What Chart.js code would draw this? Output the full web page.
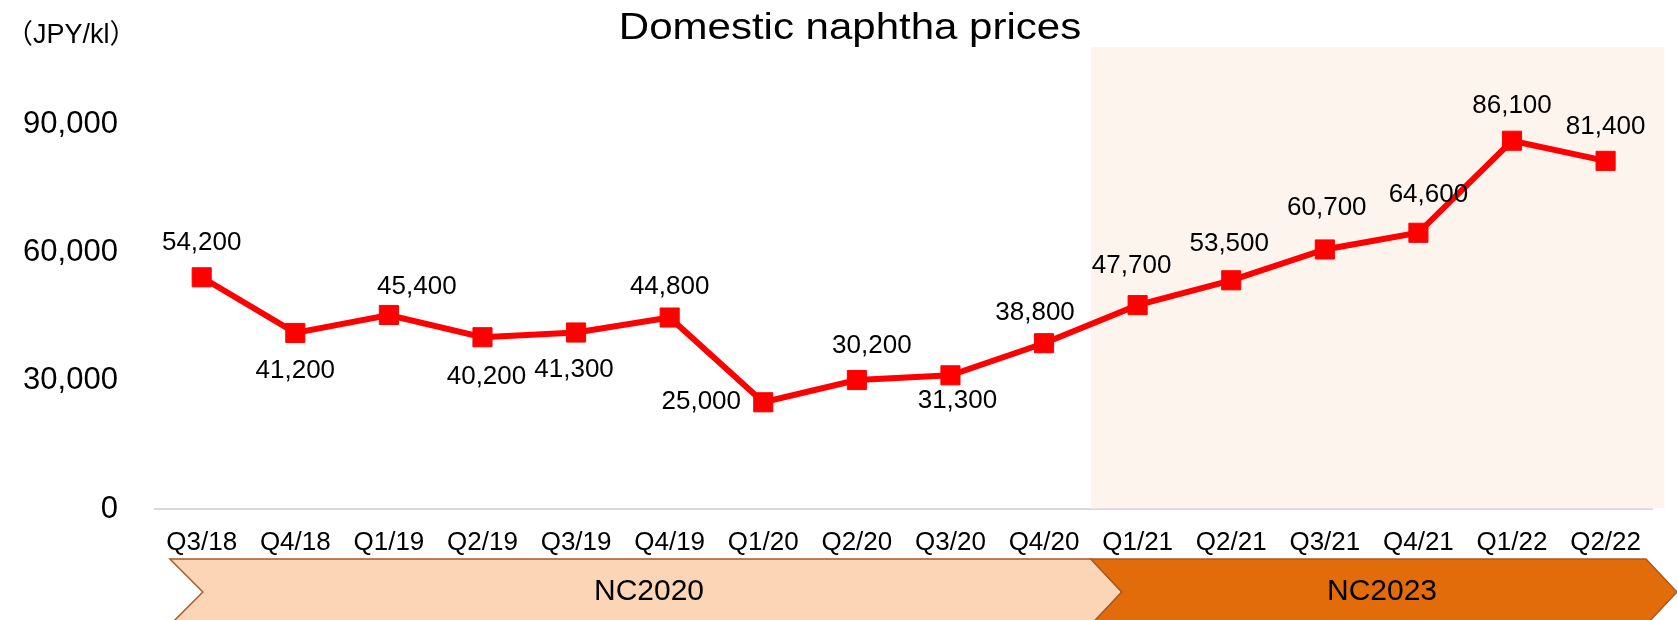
<!DOCTYPE html>
<html>
<head>
<meta charset="utf-8">
<script src="https://cdn.jsdelivr.net/npm/chart.js@4.4.0/dist/chart.umd.min.js"></script>
<style>
  html, body { margin: 0; padding: 0; background: #ffffff; }
  #wrap { width: 1677px; height: 620px; position: relative; }
</style>
</head>
<body>
<div id="wrap"><canvas id="c"></canvas></div>
<script>
// ---- data ----
const categories = ['Q3/18','Q4/18','Q1/19','Q2/19','Q3/19','Q4/19','Q1/20','Q2/20','Q3/20','Q4/20','Q1/21','Q2/21','Q3/21','Q4/21','Q1/22','Q2/22'];
const prices = [54200, 41200, 45400, 40200, 41300, 44800, 25000, 30200, 31300, 38800, 47700, 53500, 60700, 64600, 86100, 81400];
const yTicks = [0, 30000, 60000, 90000];
const titleText = 'Domestic naphtha prices';
const unitText = '（JPY/kl）';
const phaseNames = ['NC2020', 'NC2023'];
const phaseStartIndex = [0, 10];   // first category of each plan period

// ---- label placement (styling) ----
const labelDx = [0, 0, 28, 4, -2, 0, -62, 15, 7, -9, -6, -2, 2, 10, 0, 0];
const labelDy = [-34, 38, -28, 40, 37, -31, 0, -34, 26, -30, -39, -36, -42, -38, -35, -34];

const FONT = '"Liberation Sans", Arial, "Noto Sans CJK JP", sans-serif';

const decor = {
  id: 'decor',
  beforeDatasetsDraw(chart) {
    const {ctx, chartArea, scales} = chart;
    const x = scales.x;
    const boundary = (x.getPixelForValue(phaseStartIndex[1] - 1) + x.getPixelForValue(phaseStartIndex[1])) / 2;
    ctx.save();
    ctx.fillStyle = '#FEF4EE';
    ctx.fillRect(boundary, chartArea.top, chartArea.right + 12 - boundary, chartArea.bottom - 1 - chartArea.top);
    ctx.restore();
  },
  afterDraw(chart) {
    const {ctx, chartArea, scales} = chart;
    const x = scales.x;
    const boundary = (x.getPixelForValue(phaseStartIndex[1] - 1) + x.getPixelForValue(phaseStartIndex[1])) / 2;
    const top = 559, mid = 592, bot = 625, tip = 31;
    const left1 = chartArea.left + 15;
    const right2 = chart.width - tip;
    ctx.save();
    ctx.lineWidth = 1.5;
    ctx.strokeStyle = '#A85A26';
    // arrow 1
    ctx.beginPath();
    ctx.moveTo(left1, top); ctx.lineTo(boundary, top); ctx.lineTo(boundary + tip, mid);
    ctx.lineTo(boundary, bot); ctx.lineTo(left1, bot); ctx.lineTo(left1 + tip + 2, mid); ctx.closePath();
    ctx.fillStyle = '#FBD5B5'; ctx.fill(); ctx.stroke();
    // arrow 2
    ctx.beginPath();
    ctx.moveTo(boundary, top); ctx.lineTo(right2, top); ctx.lineTo(right2 + tip, mid);
    ctx.lineTo(right2, bot); ctx.lineTo(boundary, bot); ctx.lineTo(boundary + tip, mid); ctx.closePath();
    ctx.fillStyle = '#E36C0A'; ctx.fill(); ctx.stroke();
    // arrow labels
    ctx.fillStyle = '#000';
    ctx.font = '30px ' + FONT;
    ctx.textAlign = 'center'; ctx.textBaseline = 'middle';
    ctx.fillText(phaseNames[0], 649, mid);
    ctx.fillText(phaseNames[1], 1382, mid);
    // title (slightly widened)
    ctx.save();
    ctx.font = '36px ' + FONT;
    ctx.textAlign = 'center'; ctx.textBaseline = 'alphabetic';
    ctx.translate(850, 39);
    ctx.scale(1.167, 1);
    ctx.fillText(titleText, 0, 0);
    ctx.restore();
    // unit
    ctx.font = '27px ' + FONT;
    ctx.textAlign = 'left'; ctx.textBaseline = 'middle';
    ctx.fillText(unitText, 6, 36);
    ctx.restore();
  },
  afterDatasetsDraw(chart) {
    const {ctx} = chart;
    const meta = chart.getDatasetMeta(0);
    ctx.save();
    ctx.fillStyle = '#000';
    ctx.font = '26px ' + FONT;
    ctx.textAlign = 'center'; ctx.textBaseline = 'middle';
    meta.data.forEach((pt, i) => {
      const v = chart.data.datasets[0].data[i];
      ctx.fillText(v.toLocaleString('en-US'), pt.x + labelDx[i], pt.y + labelDy[i]);
    });
    ctx.restore();
  }
};

new Chart(document.getElementById('c'), {
  type: 'line',
  data: {
    labels: categories,
    datasets: [{
      data: prices,
      borderColor: '#FF0000',
      backgroundColor: '#FF0000',
      borderWidth: 6,
      pointStyle: 'rect',
      pointRadius: 13.5,
      pointBorderWidth: 1,
      pointBackgroundColor: '#FF0000',
      pointBorderColor: '#FF0000',
      tension: 0,
      clip: false
    }]
  },
  options: {
    responsive: true,
    maintainAspectRatio: false,
    animation: false,
    layout: { padding: { left: 0, right: 24.6, top: 47, bottom: 0 } },
    plugins: { legend: { display: false }, title: { display: false }, tooltip: { enabled: false } },
    scales: {
      x: {
        type: 'category',
        offset: true,
        grid: { display: false, drawTicks: false },
        border: { display: true, color: '#D9D9D9', width: 2 },
        ticks: { color: '#000', font: { size: 26, family: FONT }, padding: 18, maxRotation: 0, autoSkip: false },
        afterFit(s) { s.height = 620 - 509.3; s.paddingLeft = 0; s.paddingRight = 0; }
      },
      y: {
        min: 0, max: 108000,
        grid: { display: false, drawTicks: false },
        border: { display: false },
        afterBuildTicks(s) { s.ticks = yTicks.map(v => ({ value: v })); },
        ticks: { color: '#000', font: { size: 31, family: FONT }, padding: 37,
                 callback: v => Number(v).toLocaleString('en-US') },
        afterFit(s) { s.width = 154.9; s.paddingTop = 0; s.paddingBottom = 0; }
      }
    }
  },
  plugins: [decor]
});
</script>
</body>
</html>
